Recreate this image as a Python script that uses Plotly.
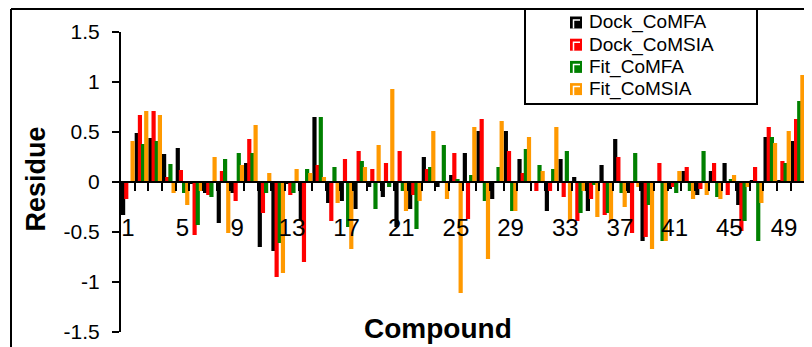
import plotly.graph_objects as go

# ---------------- data ----------------
compounds = list(range(1, 52))
series_names = ["Dock_CoMFA", "Dock_CoMSIA", "Fit_CoMFA", "Fit_CoMSIA"]
series_colors = ["#000000", "#FF0000", "#008000", "#FF9900"]

dock_comfa = [-0.33, 0.49, 0.44, 0.28, 0.34, -0.02, -0.11, -0.41, -0.11, 0.19,
              -0.65, -0.69, -0.02, -0.38, 0.65, -0.21, -0.19, -0.27, -0.05, -0.15,
              -0.45, -0.27, 0.25, -0.05, 0.07, 0.29, 0.51, -0.17, 0.51, 0.23,
              0.01, -0.29, 0.23, 0.05, -0.29, 0.17, 0.43, -0.11, -0.59, -0.01,
              -0.07, 0.11, -0.13, 0.11, 0.19, -0.23, 0.02, 0.45, 0.02, 0.41,
              0.11]
dock_comsia = [-0.17, 0.67, 0.71, 0.05, 0.12, -0.53, -0.13, 0.11, -0.19, 0.43,
               -0.31, -0.95, -0.13, -0.80, 0.17, -0.39, 0.23, 0.31, 0.13, 0.19,
               0.31, -0.13, 0.13, 0.01, 0.29, -0.37, 0.63, -0.01, 0.31, 0.09,
               -0.09, -0.09, -0.15, -0.39, -0.17, -0.33, 0.25, -0.51, -0.55, 0.19,
               -0.05, 0.15, -0.07, 0.19, -0.13, -0.49, 0.15, 0.55, 0.21, 0.63,
               0.05]
fit_comfa = [0.01, 0.38, 0.41, 0.18, -0.11, -0.43, -0.15, 0.23, 0.29, 0.29,
             -0.11, -0.61, -0.11, 0.13, 0.65, 0.15, -0.45, 0.21, -0.27, -0.05,
             -0.09, -0.47, 0.15, 0.37, 0.03, 0.07, -0.19, 0.15, -0.29, 0.33,
             0.17, 0.13, 0.31, -0.31, -0.03, -0.31, -0.11, 0.29, -0.23, -0.59,
             -0.11, -0.09, 0.31, -0.15, 0.03, -0.39, -0.59, 0.45, 0.19, 0.81,
             0.17]
fit_comsia = [0.41, 0.71, 0.67, -0.11, -0.23, -0.09, 0.25, -0.51, 0.17, 0.57,
              0.09, -0.91, 0.13, 0.09, 0.05, -0.21, -0.67, 0.15, 0.37, 0.93,
              -0.29, -0.19, 0.51, -0.17, -1.11, 0.55, -0.77, 0.61, -0.29, 0.45,
              0.11, 0.55, -0.39, -0.09, -0.35, -0.39, -0.25, -0.05, -0.67, -0.59,
              0.11, -0.17, -0.13, -0.17, 0.07, -0.05, -0.21, 0.39, 0.51, 1.07,
              None]

x_tick_values = list(range(1, 50, 4))
x_tick_labels = [str(v) for v in x_tick_values]
y_tick_values = [-1.5, -1, -0.5, 0, 0.5, 1, 1.5]
y_tick_labels = ["-1.5", "-1", "-0.5", "0", "0.5", "1", "1.5"]

x_title = "Compound"
y_title = "Residue"

# ---------------- layout helpers ----------------
# The page body has an 8px default margin, so figure px = screen px - 8.
SHIFT = 8
W, H = 812, 347
ML, MT = 121 - SHIFT, 32 - SHIFT
MR, MB = 0, H - (332 - SHIFT)
PW, PH = W - ML - MR, H - MT - MB
FONT = "Liberation Sans, Arial, sans-serif"
CAT_PX = 13.67


def px_x(x):
    """screen x pixel -> paper fraction"""
    return (x - SHIFT - ML) / PW


def px_y(y):
    """screen y pixel -> paper fraction"""
    return (H - MB - (y - SHIFT)) / PH


bar_width = 0.307
bar_offsets = [-0.5, -0.269, -0.038, 0.193]

fig = go.Figure()
all_series = [dock_comfa, dock_comsia, fit_comfa, fit_comsia]
for name, vals, col, off in zip(series_names, all_series, series_colors, bar_offsets):
    fig.add_trace(go.Bar(
        x=compounds, y=vals, name=name,
        marker=dict(color=col, line=dict(width=0)),
        width=bar_width, offset=off, showlegend=False,
    ))

shapes = []
# outer chart border (top & left visible, rest cropped)
shapes.append(dict(type="line", xref="paper", yref="paper",
                   x0=px_x(11), x1=1.05, y0=px_y(9), y1=px_y(9),
                   line=dict(color="black", width=2)))
shapes.append(dict(type="line", xref="paper", yref="paper",
                   x0=px_x(11), x1=px_x(11), y0=px_y(9), y1=-0.2,
                   line=dict(color="black", width=2)))
# legend box
shapes.append(dict(type="rect", xref="paper", yref="paper",
                   x0=px_x(525), x1=px_x(757), y0=px_y(104), y1=px_y(9),
                   fillcolor="white", line=dict(color="black", width=2), layer="above"))

annotations = []
legend_centers = [22.5, 44.7, 66.9, 89.1]
for name, col, cy in zip(series_names, series_colors, legend_centers):
    shapes.append(dict(type="rect", xref="paper", yref="paper",
                       x0=px_x(570), x1=px_x(582), y0=px_y(cy + 6), y1=px_y(cy - 6),
                       fillcolor=col, line=dict(width=0), layer="above"))
    shapes.append(dict(type="path", xref="paper", yref="paper",
                       path=f"M {px_x(573.5)} {px_y(cy + 6)} L {px_x(573.5)} {px_y(cy - 2.5)} L {px_x(580)} {px_y(cy - 2.5)}",
                       line=dict(color="white", width=1.5), layer="above"))
    annotations.append(dict(xref="paper", yref="paper", x=px_x(587), y=px_y(cy),
                            xanchor="left", yanchor="middle", showarrow=False,
                            text=name, font=dict(family=FONT, size=19, color="black")))

annotations.append(dict(xref="paper", yref="paper", x=px_x(438), y=px_y(328),
                        xanchor="center", yanchor="middle", showarrow=False,
                        text=f"<b>{x_title}</b>",
                        font=dict(family=FONT, size=28, color="black")))
annotations.append(dict(xref="paper", yref="paper", x=px_x(35.5), y=px_y(179),
                        xanchor="center", yanchor="middle", showarrow=False,
                        textangle=-90, text=f"<b>{y_title}</b>",
                        font=dict(family=FONT, size=27, color="black")))

fig.update_layout(
    width=W, height=H,
    margin=dict(l=ML, r=MR, t=MT, b=MB, pad=0),
    paper_bgcolor="white", plot_bgcolor="white",
    barmode="overlay",
    font=dict(family=FONT, color="black"),
    shapes=shapes, annotations=annotations,
    xaxis=dict(
        range=[0.5, 0.5 + PW / CAT_PX],
        anchor="free", position=0.5,
        showline=True, linecolor="black", linewidth=2,
        showgrid=False, zeroline=False,
        tickmode="array", tickvals=x_tick_values, ticktext=x_tick_labels,
        ticks="outside", ticklen=24, tickcolor="rgba(0,0,0,0)",
        tickfont=dict(family=FONT, size=24, color="black"),
        minor=dict(tick0=0.5, dtick=1, ticks="outside", ticklen=8,
                   tickwidth=2, tickcolor="black", showgrid=False),
    ),
    yaxis=dict(
        range=[-1.5, 1.5],
        showline=True, linecolor="black", linewidth=2,
        showgrid=False, zeroline=False,
        tickmode="array", tickvals=y_tick_values, ticktext=y_tick_labels,
        ticks="outside", ticklen=7, tickwidth=2, tickcolor="black",
        ticklabelstandoff=8,
        tickfont=dict(family=FONT, size=21, color="black"),
    ),
)

fig.write_html("out.html")
